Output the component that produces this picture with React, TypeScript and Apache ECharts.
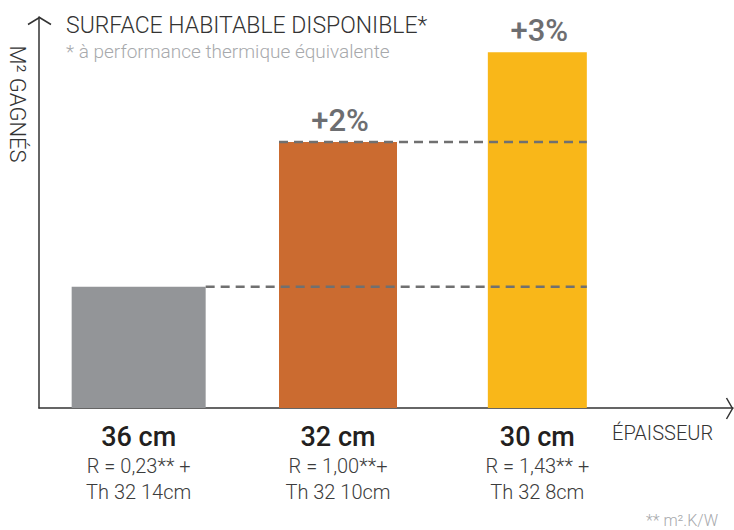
import React, { useEffect, useRef } from "react";
import * as echarts from "echarts";

// ---- data ----
const categories = ["36 cm", "32 cm", "30 cm"];
const resistances = ["R = 0,23** +", "R = 1,00**+", "R = 1,43** +"];
const insulations = ["Th 32 14cm", "Th 32 10cm", "Th 32 8cm"];
const surfaceValues = [31, 68, 91];
const gainLabels = ["", "+2%", "+3%"];
const refLineBars = [0, 1];
const refLineStartSides = [1, -1]; // 1: start at bar's right edge, -1: at its left edge

// ---- styles ----
const barColors = ["#939598", "#CB6B30", "#F9B719"];
const barWidths = [134, 118, 99];
const FONT = "Roboto, 'Noto Sans', sans-serif";
const AXIS_COLOR = "#333333";

export default function App() {
  const ref = useRef<HTMLDivElement>(null);

  useEffect(() => {
    if (!ref.current) return;
    const chart = echarts.init(ref.current, null, { renderer: "svg" });
    const last = categories.length - 1;

    chart.setOption({
      animation: false,
      backgroundColor: "#ffffff",
      grid: [
        { left: 39, right: 97, top: 17, bottom: 122 },
        { left: 39, right: 1, top: 17, bottom: 122 },
      ],
      xAxis: [
        {
          gridIndex: 0,
          type: "category",
          data: categories,
          boundaryGap: true,
          axisLine: { show: false },
          axisTick: { show: false },
          axisLabel: {
            interval: 0,
            margin: 13,
            formatter: (_v: string, i: number) =>
              `{a|${categories[i]}}\n{b|${resistances[i]}}\n{b|${insulations[i]}}`,
            rich: {
              a: { fontFamily: FONT, fontSize: 27, fontWeight: 500, color: "#231f20", lineHeight: 32 },
              b: { fontFamily: FONT, fontSize: 20, fontWeight: 300, color: "#3c3c3c", lineHeight: 26 },
            },
          },
        },
        {
          gridIndex: 1,
          type: "value",
          min: 0,
          max: 1,
          axisLine: { show: true, lineStyle: { color: AXIS_COLOR, width: 1.5 } },
          axisTick: { show: false },
          axisLabel: { show: false },
          splitLine: { show: false },
        },
      ],
      yAxis: [
        {
          gridIndex: 0,
          type: "value",
          min: 0,
          max: 100,
          axisLine: { show: true, lineStyle: { color: AXIS_COLOR, width: 1.5 } },
          axisTick: { show: false },
          axisLabel: { show: false },
          splitLine: { show: false },
        },
        { gridIndex: 1, type: "value", show: false, min: 0, max: 1 },
      ],
      series: [
        {
          type: "custom",
          name: "surface",
          xAxisIndex: 0,
          yAxisIndex: 0,
          data: surfaceValues.map((v, i) => [i, v]),
          renderItem: (_p: any, api: any) => {
            const idx = api.value(0);
            const v = api.value(1);
            const top = api.coord([idx, v]);
            const base = api.coord([idx, 0]);
            const w = barWidths[idx];
            const children: any[] = [
              {
                type: "rect",
                shape: { x: top[0] - w / 2, y: top[1], width: w, height: base[1] - top[1] },
                style: { fill: barColors[idx] },
              },
            ];
            if (gainLabels[idx]) {
              children.push({
                type: "text",
                x: top[0] + 2,
                y: top[1] - 22,
                style: {
                  text: gainLabels[idx],
                  align: "center",
                  verticalAlign: "middle",
                  fontFamily: FONT,
                  fontSize: 31,
                  fontWeight: 500,
                  fill: "#6d6e71",
                },
              });
            }
            return { type: "group", children };
          },
          z: 2,
        },
        {
          type: "custom",
          name: "reference",
          xAxisIndex: 0,
          yAxisIndex: 0,
          data: refLineBars.map((b, i) => [b, surfaceValues[b], i]),
          renderItem: (_p: any, api: any) => {
            const b = api.value(0);
            const v = api.value(1);
            const i = api.value(2);
            const p = api.coord([b, v]);
            const pEnd = api.coord([last, v]);
            const x1 = p[0] + (refLineStartSides[i] * barWidths[b]) / 2;
            const x2 = pEnd[0] + barWidths[last] / 2;
            return {
              type: "line",
              shape: { x1, y1: p[1], x2, y2: p[1] },
              style: { stroke: "#707070", lineWidth: 2.5, lineDash: [9, 6] },
            };
          },
          z: 3,
        },
      ],
      graphic: [
        {
          type: "polyline",
          shape: { points: [[28, 24.5], [39.5, 17.5], [51, 24.5]] },
          style: { stroke: AXIS_COLOR, lineWidth: 1.5, fill: "none" },
        },
        {
          type: "polyline",
          shape: { points: [[726.5, 398], [732.5, 408.5], [726.5, 419]] },
          style: { stroke: AXIS_COLOR, lineWidth: 1.5, fill: "none" },
        },
        {
          type: "text",
          x: 66,
          y: 25,
          style: {
            text: "SURFACE HABITABLE DISPONIBLE*",
            align: "left",
            verticalAlign: "middle",
            fontFamily: FONT,
            fontSize: 23,
            fontWeight: 300,
            fill: "#333333",
          },
        },
        {
          type: "text",
          x: 66,
          y: 51,
          style: {
            text: "* à performance thermique équivalente",
            align: "left",
            verticalAlign: "middle",
            fontFamily: FONT,
            fontSize: 19,
            fontWeight: 300,
            fill: "#a7a9ac",
          },
        },
        {
          type: "text",
          x: 17,
          y: 104,
          rotation: -Math.PI / 2,
          style: {
            text: "M² GAGNÉS",
            align: "center",
            verticalAlign: "middle",
            fontFamily: FONT,
            fontSize: 22,
            fontWeight: 300,
            fill: "#333333",
          },
        },
        {
          type: "text",
          x: 612,
          y: 433,
          style: {
            text: "ÉPAISSEUR",
            align: "left",
            verticalAlign: "middle",
            fontFamily: FONT,
            fontSize: 20,
            fontWeight: 300,
            fill: "#333333",
          },
        },
        {
          type: "text",
          x: 718,
          y: 520,
          style: {
            text: "** m².K/W",
            align: "right",
            verticalAlign: "middle",
            fontFamily: FONT,
            fontSize: 16,
            fontWeight: 300,
            fill: "#a7a9ac",
          },
        },
      ],
    });

    return () => chart.dispose();
  }, []);

  return (
    <div
      ref={ref}
      style={{ position: "absolute", left: 0, top: 0, width: 734, height: 530 }}
    />
  );
}
